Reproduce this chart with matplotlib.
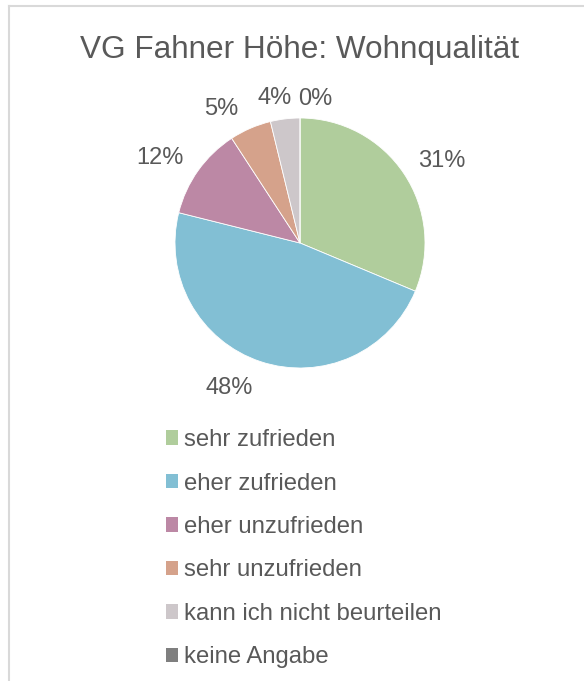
import numpy as np
import matplotlib
matplotlib.use("Agg")
import matplotlib.pyplot as plt
from matplotlib.patches import Patch
from matplotlib.lines import Line2D

TITLE = "VG Fahner Höhe: Wohnqualität"
CATEGORIES = ["sehr zufrieden", "eher zufrieden", "eher unzufrieden",
              "sehr unzufrieden", "kann ich nicht beurteilen", "keine Angabe"]
VALUES = [31.3, 47.6, 11.9, 5.4, 3.8, 0.0]
COLORS = ["#B0CD9C", "#82BFD4", "#BC88A5", "#D5A28B", "#CDC7CA", "#7F7F7F"]
TEXT = "#595959"

plt.rcParams["font.family"] = ["Liberation Sans", "DejaVu Sans"]

W, H = 584, 681
fig = plt.figure(figsize=(W / 100, H / 100), dpi=100)

# light frame (only top + left edges visible in the crop)
fig.add_artist(Line2D([8.5 / W, 1.0], [1 - 5.5 / H, 1 - 5.5 / H], color="#D9D9D9", lw=1.5))
fig.add_artist(Line2D([8.5 / W, 8.5 / W], [0.0, 1 - 5.5 / H], color="#D9D9D9", lw=1.5))

fig.text(300 / W, 1 - 50 / H, TITLE, ha="center", va="center", fontsize=22.7, color=TEXT)

cx, cy, r = 300, 243, 125
ax = fig.add_axes([(cx - r) / W, (H - cy - r) / H, 2 * r / W, 2 * r / H])
wedges, _ = ax.pie(VALUES, colors=COLORS, startangle=90, counterclock=False,
                   radius=1.0, wedgeprops=dict(linewidth=0.6, edgecolor="white"))
ax.set_xlim(-1, 1)
ax.set_ylim(-1, 1)
ax.set_aspect("equal")
ax.axis("off")

# percentage labels outside the wedges, shifted a bit like Excel places them
total = sum(VALUES)
nudge = {0: (0.05, -0.064), 1: (-0.16, 0.076), 2: (-0.06, -0.074),
         3: (-0.11, -0.124), 4: (-0.05, -0.134), 5: (0.12, -0.144)}
for i, (w, v) in enumerate(zip(wedges, VALUES)):
    ang = np.deg2rad((w.theta1 + w.theta2) / 2)
    dx, dy = nudge.get(i, (0.0, 0.0))
    x = 1.3 * np.cos(ang) + dx
    y = 1.3 * np.sin(ang) + dy
    ax.text(x, y, f"{round(v / total * 100):.0f}%", ha="center", va="center",
            fontsize=17, color=TEXT, clip_on=False)

handles = [Patch(facecolor=c, edgecolor="none") for c in COLORS]
fig.legend(handles, CATEGORIES, loc="upper left", bbox_to_anchor=(166 / W, 1 - 429 / H),
           frameon=False, fontsize=17.2, labelcolor=TEXT, handlelength=0.52,
           handleheight=0.55, handletextpad=0.22, labelspacing=0.9, borderpad=0,
           borderaxespad=0)

fig.savefig("out.png", dpi=100)
